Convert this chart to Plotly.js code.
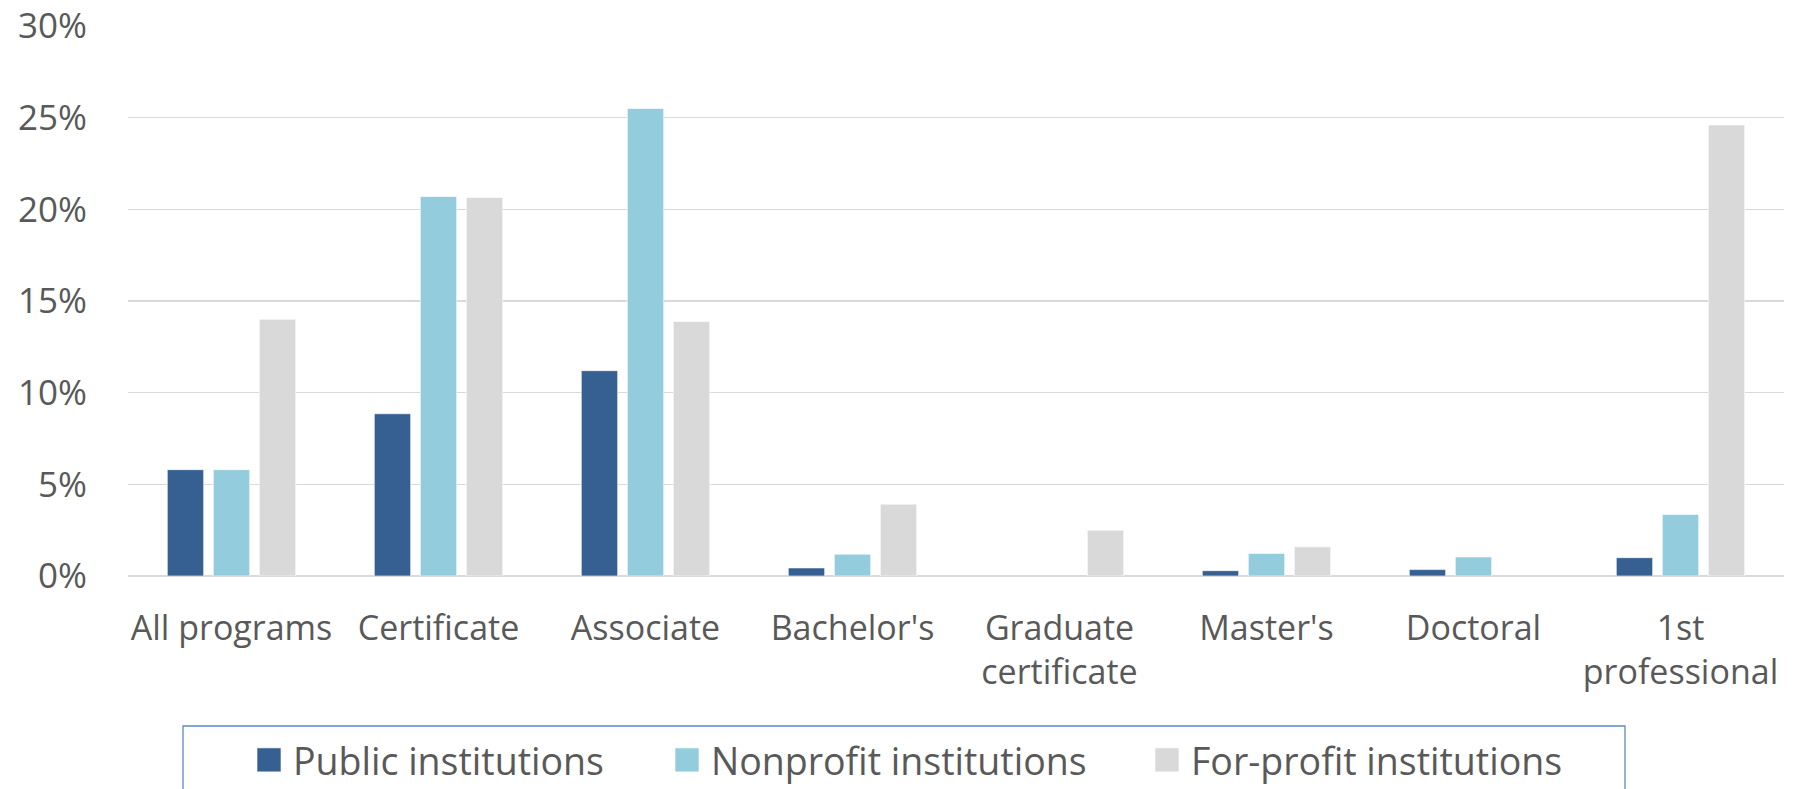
<!DOCTYPE html>
<html>
<head>
<meta charset="utf-8">
<script src="https://cdn.plot.ly/plotly-3.0.1.min.js"></script>
<style>
  html, body { margin: 0; padding: 0; background: #ffffff; }
  #chart { width: 1799px; height: 789px; }
</style>
</head>
<body>
<div id="chart"></div>
<script>
const categories = ["All programs", "Certificate", "Associate", "Bachelor's", "Graduate<br>certificate", "Master's", "Doctoral", "1st<br>professional"];
const seriesNames = ["Public institutions", "Nonprofit institutions", "For-profit institutions"];
const publicValues = [0.058, 0.0885, 0.112, 0.0044, null, 0.0029, 0.0035, 0.010];
const nonprofitValues = [0.058, 0.207, 0.255, 0.0119, null, 0.0123, 0.0104, 0.0336];
const forprofitValues = [0.140, 0.2065, 0.1388, 0.0392, 0.025, 0.0159, null, 0.246];
const yTickValues = [0, 0.05, 0.10, 0.15, 0.20, 0.25, 0.30];
const yTickLabels = ["0%", "5%", "10%", "15%", "20%", "25%", "30%"];

const colors = ["#376092", "#93CDDD", "#D9D9D9"];
const allValues = [publicValues, nonprofitValues, forprofitValues];
const legendWidths = [373, 435, 380];

const traces = allValues.map((vals, i) => ({
  type: "bar",
  name: seriesNames[i],
  x: categories,
  y: vals,
  marker: { color: colors[i], line: { color: "rgba(255,255,255,0.6)", width: 1 } },
  legendwidth: legendWidths[i],
  hoverinfo: "x+y+name"
}));

const W = 1799, H = 789;
const mL = 128, mR = 15, mT = 26, mB = 213;
const pw = W - mL - mR, ph = H - mT - mB;
const px = (x) => (x - mL) / pw;
const py = (y) => (H - mB - y) / ph;

const layout = {
  width: W,
  height: H,
  margin: { l: mL, r: mR, t: mT, b: mB, pad: 0, autoexpand: false },
  paper_bgcolor: "#ffffff",
  plot_bgcolor: "#ffffff",
  font: { family: "Open Sans, Noto Sans, sans-serif", size: 34, color: "#595959" },
  barmode: "group",
  bargap: 0.333,
  bargroupgap: 0.21,
  showlegend: true,
  xaxis: {
    type: "category",
    automargin: false,
    showgrid: false,
    showline: false,
    ticks: "",
    ticklabelstandoff: 29,
    tickfont: { size: 34, color: "#595959" },
    fixedrange: true
  },
  yaxis: {
    range: [0, 0.30],
    automargin: false,
    tickvals: yTickValues,
    ticktext: yTickLabels,
    showgrid: true,
    gridcolor: "#D9D9D9",
    gridwidth: 1.5,
    zeroline: true,
    zerolinecolor: "#D9D9D9",
    zerolinewidth: 1.5,
    showline: false,
    ticks: "",
    ticklabelstandoff: 40,
    tickfont: { size: 35, color: "#595959" },
    fixedrange: true
  },
  legend: {
    orientation: "h",
    x: px(253),
    xanchor: "left",
    y: py(729),
    yanchor: "top",
    bgcolor: "rgba(0,0,0,0)",
    borderwidth: 0,
    font: { size: 37.5, color: "#595959" },
    traceorder: "normal"
  },
  shapes: [
    {
      type: "rect",
      xref: "paper", yref: "paper",
      x0: px(183), x1: px(1625),
      y0: py(726), y1: py(805),
      line: { color: "#5B8BC6", width: 1.3 },
      fillcolor: "rgba(0,0,0,0)",
      layer: "below"
    }
  ]
};

function enlargeLegendSwatches() {
  document.querySelectorAll("#chart .legend .legendpoints path").forEach(p => {
    p.setAttribute("d", "M8,12H-16V-12H8Z");
  });
}

Plotly.newPlot("chart", traces, layout, { displayModeBar: false, staticPlot: true }).then(enlargeLegendSwatches);
</script>
</body>
</html>
